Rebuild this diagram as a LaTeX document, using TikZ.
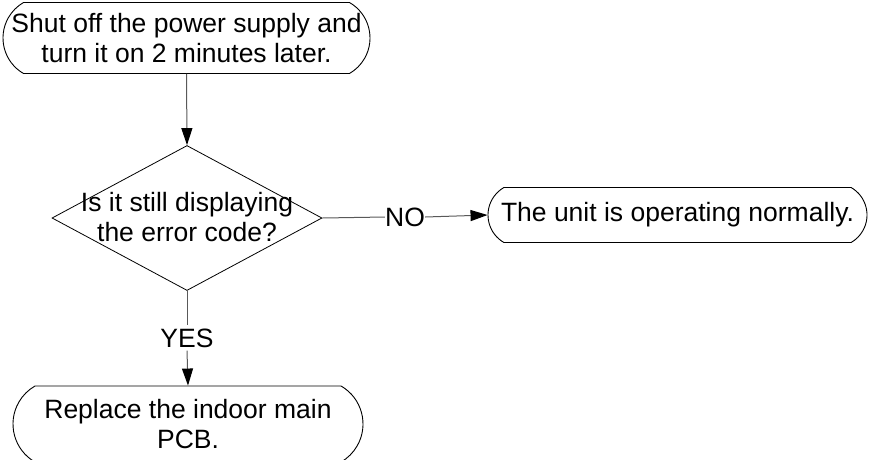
\documentclass[tikz,border=0pt]{standalone}
\usepackage{fontspec}
\setmainfont{Liberation Sans}
\usetikzlibrary{shapes.misc,shapes.geometric,arrows.meta}
\begin{document}
\begin{tikzpicture}[x=1pt,y=-1pt,
  font=\fontsize{26.5}{30}\selectfont,
  term/.style={rounded rectangle, rounded rectangle arc length=120, draw=black, line width=0.9pt, inner sep=0pt, align=center},
  dia/.style={diamond, draw=black, line width=0.8pt, inner sep=0pt, minimum width=270pt, minimum height=145pt},
  txt/.style={inner sep=0pt, align=center},
  conn/.style={draw=black!65, line width=1pt},
  arr/.style={conn, -{Triangle[length=17pt,width=11pt,fill=black,color=black]}}
]
\useasboundingbox (0,0) rectangle (869,459);
\node[term, minimum width=367pt, minimum height=71pt] (top) at (186.5,38) {Shut off the power supply and\\turn it on 2 minutes later.};
\node[dia] (d) at (187,218) {};
\node[txt] (dt) at (187,217) {Is it still displaying\\the error code?};
\node[term, minimum width=379pt, minimum height=55pt] (ok) at (677.5,215) {The unit is operating normally.};
\node[term, minimum width=350pt, minimum height=76pt] (pcb) at (188,424) {Replace the indoor main\\PCB.};
\node[txt] (no) at (405,217) {NO};
\node[txt] (yes) at (187,338) {YES};
\draw[arr] (top.south) -- (d.north);
\draw[conn] (d.east) -- (no.west);
\draw[arr] (no.east) -- (ok.west);
\draw[conn] (d.south) -- ([yshift=3pt]yes.north);
\draw[arr] ([yshift=-3pt]yes.south) -- (pcb.north);
\end{tikzpicture}
\end{document}
